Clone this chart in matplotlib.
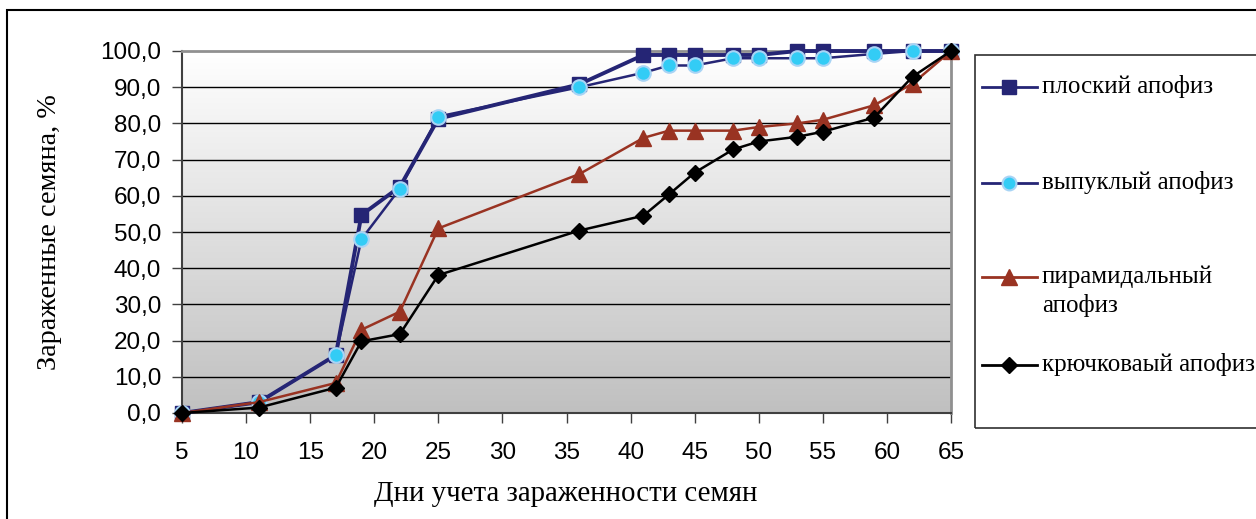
import numpy as np
import matplotlib
matplotlib.use('Agg')
import matplotlib.pyplot as plt
from matplotlib.lines import Line2D
from matplotlib.patches import Rectangle
from matplotlib.ticker import FuncFormatter

# Days and infection percentages per apophysis type
days = [5, 11, 17, 19, 22, 25, 36, 41, 43, 45, 48, 50, 53, 55, 59, 62, 65]
flat = [0, 3, 16, 54.7, 62.5, 81.3, 90.8, 98.9, 98.9, 98.9, 98.9, 98.9, 100, 100, 100, 100, 100]
convex = [0, 3, 16, 48, 62, 81.9, 90, 94, 96, 96, 98, 98, 98, 98, 99.2, 100, 100]
pyramid = [0, 3, 8.3, 23, 28, 51, 66, 76, 78, 78, 78, 79, 80, 81, 85, 91, 100]
hooked = [0, 1.5, 7, 19.8, 21.8, 38.1, 50.4, 54.5, 60.4, 66.4, 72.8, 75, 76.3, 77.7, 81.6, 92.9, 100]

labels = ['плоский апофиз', 'выпуклый апофиз', 'пирамидальный\nапофиз', 'крючковаый апофиз']

navy = '#252575'
styles = [
    dict(color=navy, lw=2.8, marker='s', ms=10.5, mfc=navy, mec=navy),
    dict(color=navy, lw=1.8, marker='o', ms=10.5, mfc='#33ccf5', mec='#a8d4f5', mew=1.5),
    dict(color='#993322', lw=1.8, marker='^', ms=11.5, mfc='#993322', mec='#993322'),
    dict(color='black', lw=1.8, marker='D', ms=8.5, mfc='black', mec='black'),
]

W, H = 1256, 519
fig = plt.figure(figsize=(W / 100, H / 100), dpi=100)
ax = fig.add_axes([182 / W, 1 - 413 / H, (951 - 182) / W, (413 - 51) / H])

# grey gradient background
grad = np.linspace(0, 1, 256).reshape(-1, 1)
ax.imshow(grad, cmap=matplotlib.colors.LinearSegmentedColormap.from_list('g', ['#ffffff', '#c0c0c0']),
          extent=[5, 65, 0, 100], aspect='auto', origin='upper', zorder=0)

for y in range(10, 100, 10):
    ax.axhline(y, color='black', lw=1.0, zorder=1)

for vals, st in zip([flat, convex, pyramid, hooked], styles):
    ax.plot(days, vals, zorder=3, clip_on=False, **st)

ax.set_xlim(5, 65)
ax.set_ylim(0, 100)
ax.set_xticks(range(5, 66, 5))
ax.set_yticks(range(0, 101, 10))
ax.yaxis.set_major_formatter(FuncFormatter(lambda v, p: f'{v:.1f}'.replace('.', ',')))

for t in ax.get_xticklabels() + ax.get_yticklabels():
    t.set_fontfamily('Liberation Sans')
    t.set_fontsize(17.5)
ax.tick_params(axis='both', direction='out', length=7, width=1, color='#404040')
ax.tick_params(axis='y', pad=8)
ax.tick_params(axis='x', pad=14)

for side in ['left', 'bottom']:
    ax.spines[side].set_color('#404040')
    ax.spines[side].set_linewidth(1.5)
for side in ['top', 'right']:
    ax.spines[side].set_color('#909090')
    ax.spines[side].set_linewidth(2)

fig.text(566 / W, 1 - 494 / H, 'Дни учета зараженности семян', family='Liberation Serif',
         size=20.8, ha='center', va='center')
fig.text(50 / W, 1 - 232 / H, 'Зараженные семяна, %', family='Liberation Serif',
         size=20.3, ha='center', va='center', rotation=90)

# outer chart frame
fig.add_artist(Rectangle((7 / W, -0.1), 1.2, 1 - 10 / H + 0.1, transform=fig.transFigure,
                         fill=False, ec='black', lw=1.5))

# legend box drawn by hand so the wrapped label keeps its marker on the first line
fig.add_artist(Rectangle((975 / W, 1 - 428 / H), 0.5, (428 - 55) / H, transform=fig.transFigure,
                         fill=False, ec='#303030', lw=1.2))
rows = [87, 183, 277, 365]
for lab, st, ry in zip(labels, styles, rows):
    yy = 1 - ry / H
    fig.add_artist(Line2D([982 / W, 1037 / W], [yy, yy], transform=fig.transFigure,
                          color=st['color'], lw=2))
    fig.add_artist(Line2D([1009 / W], [yy], transform=fig.transFigure, lw=0,
                          marker=st['marker'], ms=st['ms'] * 0.95, mfc=st['mfc'], mec=st['mec'],
                          mew=st.get('mew', 1)))
    if '\n' in lab:
        fig.text(1042 / W, 1 - (ry - 11) / H, lab, family='Liberation Serif', size=18,
                 ha='left', va='top', linespacing=1.3)
    else:
        fig.text(1042 / W, yy, lab, family='Liberation Serif', size=18,
                 ha='left', va='center')

fig.savefig('out.png', dpi=100)
